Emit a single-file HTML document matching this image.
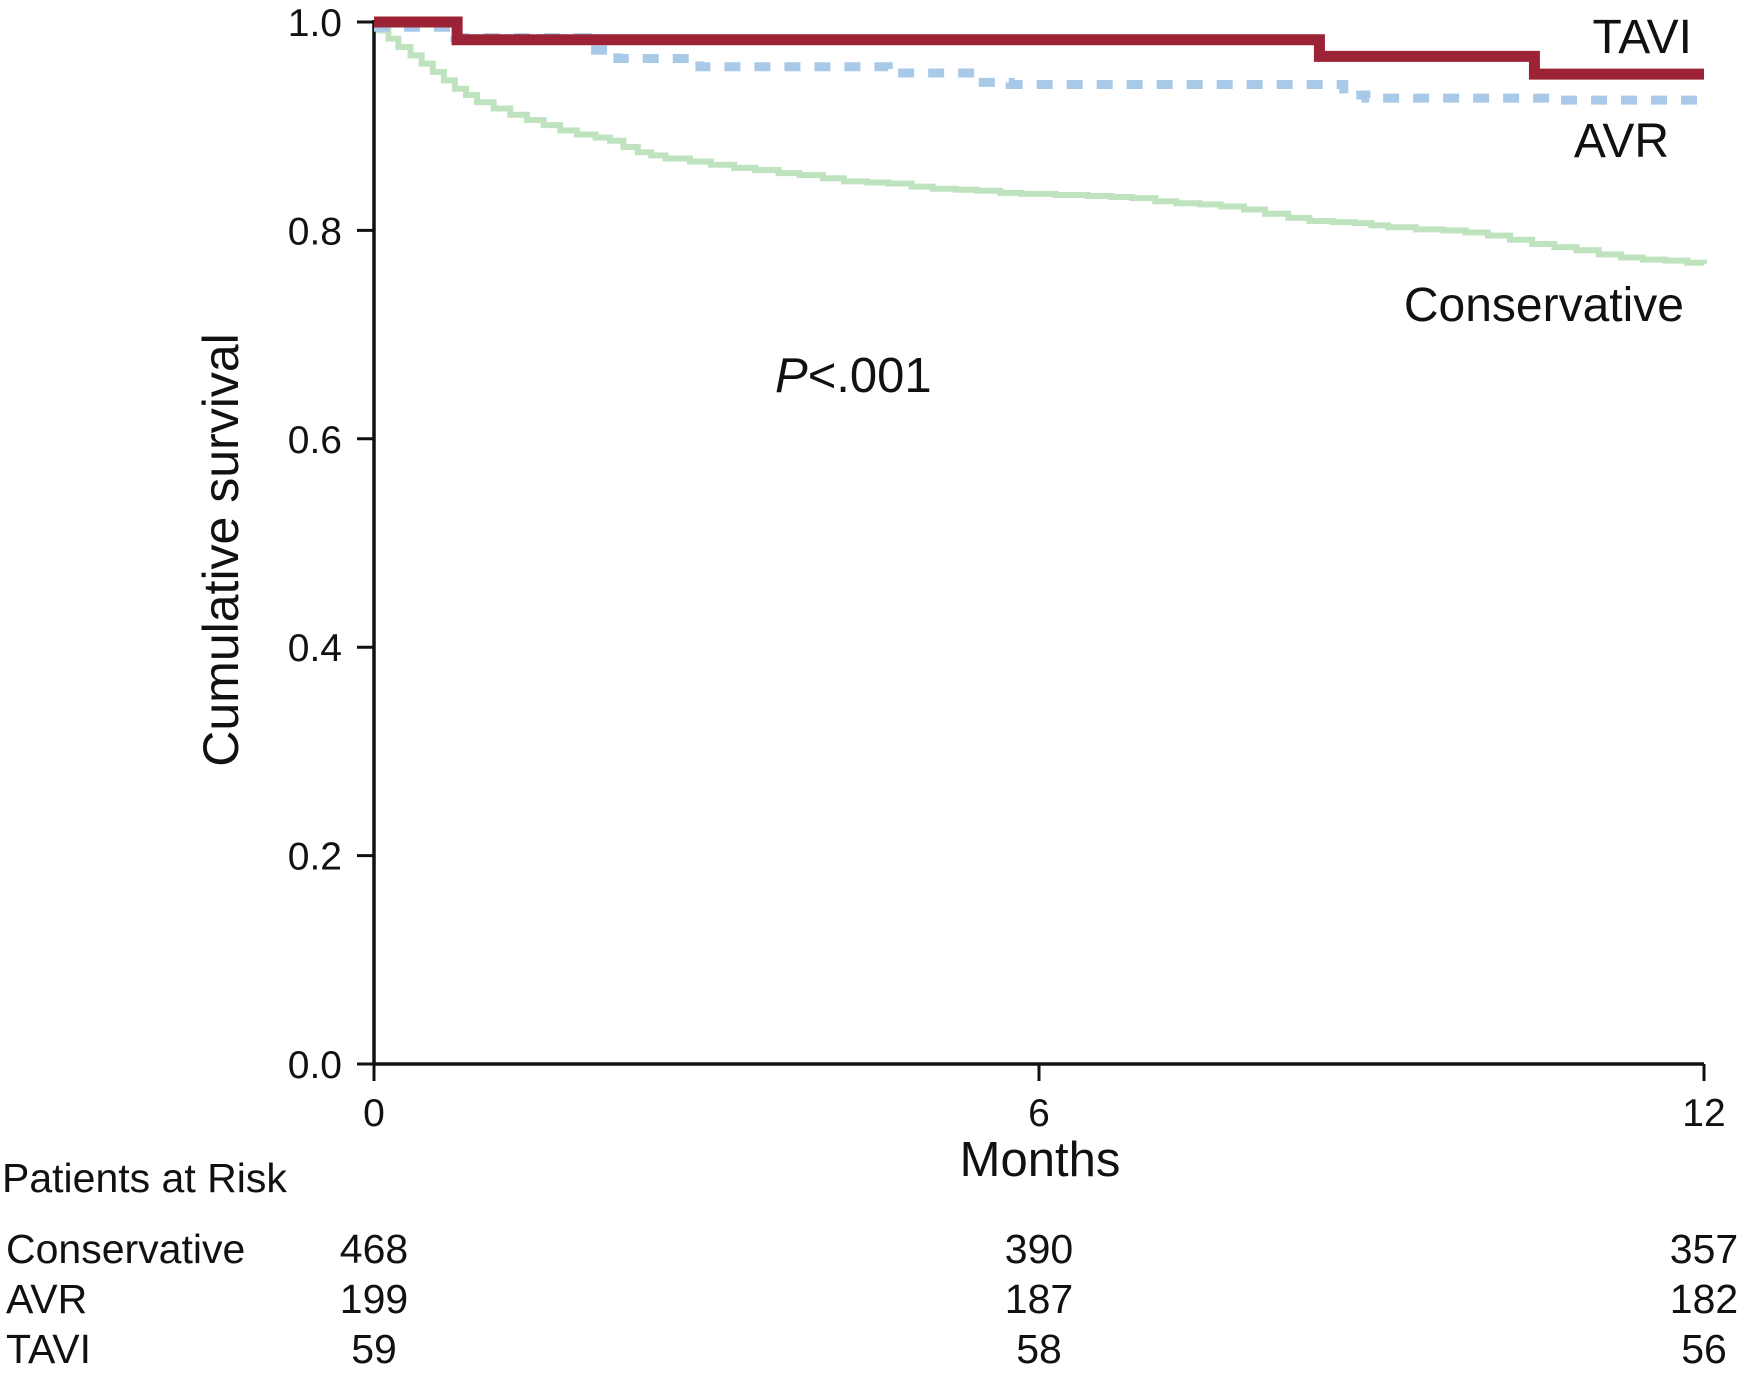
<!DOCTYPE html>
<html><head><meta charset="utf-8"><style>
html,body{margin:0;padding:0;background:#fff;}
svg{display:block;font-family:"Liberation Sans",Arial,sans-serif;}
</style></head><body>
<svg id="chart" width="1741" height="1376" viewBox="0 0 1741 1376">
<g id="axes"></g>
<g id="series"></g>
<g id="labels">
<text x="1692" y="53" font-size="48" text-anchor="end" fill="#111">TAVI</text>
<text x="1669" y="157" font-size="48" text-anchor="end" fill="#111">AVR</text>
<text x="1684" y="321" font-size="48" text-anchor="end" fill="#111">Conservative</text>
<text x="775" y="392" font-size="49" fill="#111"><tspan font-style="italic">P</tspan>&lt;.001</text>
<text transform="translate(238,550) rotate(-90)" font-size="50" text-anchor="middle" fill="#111">Cumulative survival</text>
<text x="1040" y="1176" font-size="49" text-anchor="middle" fill="#111">Months</text>
<text x="2" y="1192" font-size="41" fill="#111">Patients at Risk</text>
</g>
<g id="risk"></g>
</svg>
<script>
const xTicks = [0, 6, 12];
const yTicks = [0.0, 0.2, 0.4, 0.6, 0.8, 1.0];
const taviT = [0, 0.75, 8.53, 10.47, 12];
const taviS = [1.0, 0.983, 0.967, 0.95, 0.95];
const avrT = [0, 0.73, 1.93, 2.2, 2.94, 4.64, 5.44, 5.74, 8.75, 8.95, 10.65, 12];
const avrS = [0.995, 0.985, 0.973, 0.965, 0.957, 0.951, 0.942, 0.94, 0.93, 0.927, 0.925, 0.925];
const consT = [0, 0.05, 0.13, 0.22, 0.33, 0.43, 0.53, 0.63, 0.73, 0.83, 0.93, 1.08, 1.23, 1.38, 1.53, 1.68, 1.83, 2.0, 2.13, 2.25, 2.38, 2.5, 2.63, 2.85, 3.04, 3.25, 3.44, 3.65, 3.84, 4.05, 4.24, 4.45, 4.64, 4.85, 5.04, 5.25, 5.44, 5.65, 5.84, 6.15, 6.44, 6.65, 6.84, 7.05, 7.24, 7.45, 7.64, 7.85, 8.04, 8.25, 8.44, 8.65, 8.85, 9.0, 9.15, 9.4, 9.65, 9.85, 10.05, 10.25, 10.45, 10.65, 10.85, 11.05, 11.25, 11.45, 11.65, 11.85, 12];
const consS = [1.0, 0.992, 0.984, 0.976, 0.968, 0.96, 0.952, 0.944, 0.936, 0.93, 0.923, 0.917, 0.911, 0.906, 0.901, 0.896, 0.892, 0.889, 0.886, 0.88, 0.875, 0.872, 0.869, 0.866, 0.863, 0.86, 0.858, 0.855, 0.853, 0.85, 0.847, 0.846, 0.845, 0.842, 0.840, 0.839, 0.838, 0.836, 0.835, 0.834, 0.833, 0.832, 0.831, 0.828, 0.826, 0.825, 0.823, 0.82, 0.816, 0.812, 0.809, 0.808, 0.807, 0.805, 0.803, 0.801, 0.800, 0.798, 0.795, 0.791, 0.787, 0.784, 0.781, 0.777, 0.774, 0.772, 0.771, 0.769, 0.768];
const riskGroups = ["Conservative", "AVR", "TAVI"];
const riskConservative = [468, 390, 357];
const riskAVR = [199, 187, 182];
const riskTAVI = [59, 58, 56];

const NS = "http://www.w3.org/2000/svg";
const X0 = 374, X1 = 1704, Y0 = 1064, Y1 = 22;
const xs = m => X0 + (m / 12) * (X1 - X0);
const ys = v => Y0 - v * (Y0 - Y1);
function mk(tag, attrs, parent) {
  const e = document.createElementNS(NS, tag);
  for (const k in attrs) e.setAttribute(k, attrs[k]);
  parent.appendChild(e);
  return e;
}
const axes = document.getElementById('axes');
let a = mk('line', {x1: X0, y1: Y1 - 2, x2: X0, y2: Y0, stroke: '#111', 'stroke-width': 3.5}, axes);


a = mk('line', {x1: X0, y1: Y0, x2: X1, y2: Y0, stroke: '#111', 'stroke-width': 3.5}, axes);


yTicks.forEach(v => {
  const t = mk('line', {x1: X0 - 17, y1: ys(v), x2: X0, y2: ys(v), stroke: '#111', 'stroke-width': 3}, axes);
  
  
  const l = mk('text', {x: X0 - 32, y: ys(v) + 14, 'font-size': 39, 'text-anchor': 'end', fill: '#111'}, axes);
  l.textContent = v.toFixed(1);
  
  
});
xTicks.forEach(m => {
  const t = mk('line', {x1: xs(m), y1: Y0, x2: xs(m), y2: Y0 + 17, stroke: '#111', 'stroke-width': 3}, axes);
  
  
  const l = mk('text', {x: xs(m), y: 1126, 'font-size': 39, 'text-anchor': 'middle', fill: '#111'}, axes);
  l.textContent = m;
  
  
});
function stepPath(T, S) {
  let d = 'M' + xs(T[0]) + ',' + ys(S[0]);
  for (let i = 1; i < T.length; i++) {
    d += ' H' + xs(T[i]) + ' V' + ys(S[i]);
  }
  return d;
}
const series = document.getElementById('series');
let p = mk('path', {d: stepPath(consT, consS), fill: 'none', stroke: '#bfe3bf', 'stroke-width': 6}, series);


p = mk('path', {d: stepPath(avrT, avrS), fill: 'none', stroke: '#a9c9e8', 'stroke-width': 9, 'stroke-dasharray': '16 14'}, series);


p = mk('path', {d: stepPath(taviT, taviS), fill: 'none', stroke: '#9b2335', 'stroke-width': 11}, series);



const risk = document.getElementById('risk');
const rows = [riskConservative, riskAVR, riskTAVI];
const rowY = [1263, 1313, 1363];
riskGroups.forEach((g, i) => {
  const n = mk('text', {x: 6, y: rowY[i], 'font-size': 41, fill: '#111'}, risk);
  n.textContent = g;
  
  
  rows[i].forEach((v, j) => {
    const c = mk('text', {x: xs(xTicks[j]), y: rowY[i], 'font-size': 41, 'text-anchor': 'middle', fill: '#111'}, risk);
    c.textContent = v;
    
    
  });
});
</script>
</body></html>
